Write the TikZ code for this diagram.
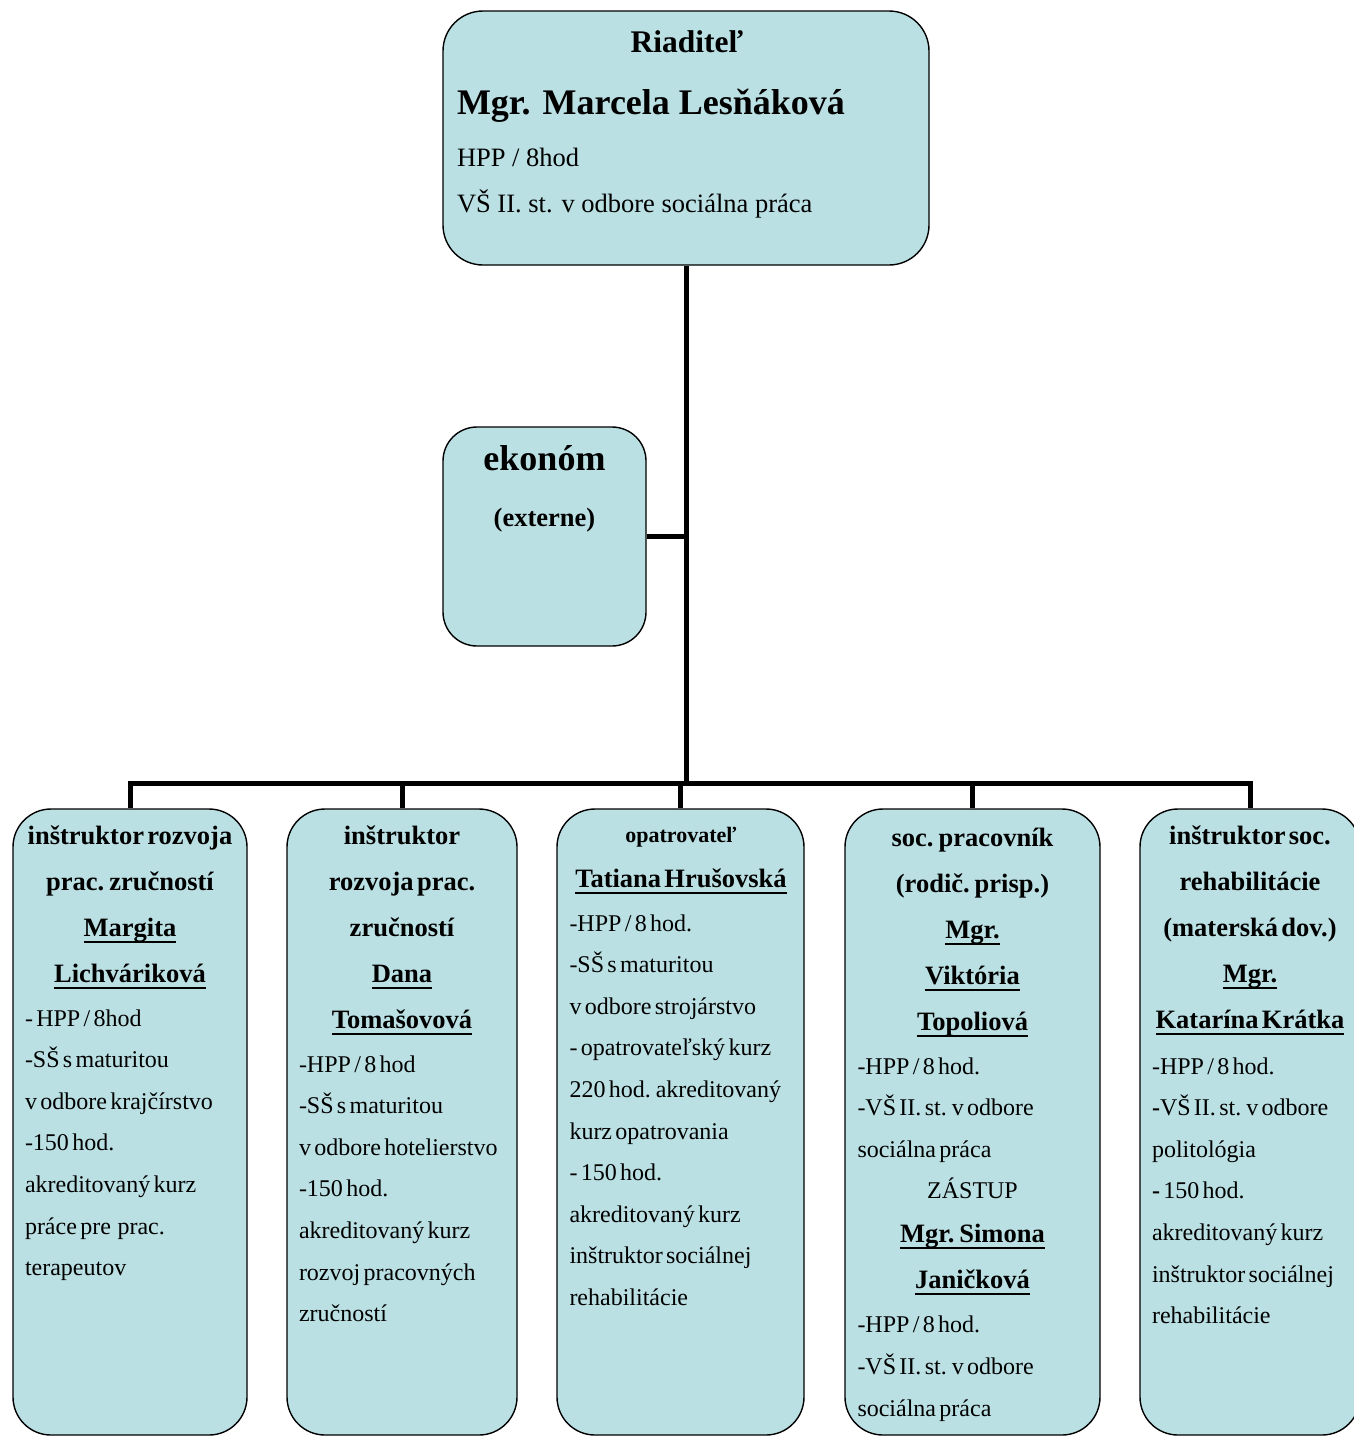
\documentclass[tikz,border=0pt]{standalone}
\usepackage{fontspec}
\setmainfont{Liberation Serif}
\definecolor{boxfill}{RGB}{186,224,227}
\newsavebox\nmbox
\newcommand\nm[1]{\sbox\nmbox{#1}\rlap{\rule[-0.25em]{\wd\nmbox}{0.075em}}\usebox\nmbox}
\newcommand\ctr[1]{\makebox[\hsize][c]{#1}}
\newcommand\hdfont{\fontsize{26.5}{46}\bfseries}
\newcommand\bdfont{\fontsize{24}{41.6}\selectfont}
\tikzset{
  orgbox/.style={draw=black, fill=boxfill, line width=1.4pt, rounded corners=38pt, inner sep=0pt},
  conn/.style={draw=black, line width=5pt},
  tx/.style={inner sep=0pt, outer sep=0pt},
}
\begin{document}
\begin{tikzpicture}[x=1pt,y=-1pt]
\useasboundingbox (0,0) rectangle (1354,1436);
\fill[white] (0,0) rectangle (1354,1436);

% boxes
\node[orgbox, rounded corners=40pt, minimum width=486pt, minimum height=254pt] (boss) at (686,138) {};
\node[orgbox, rounded corners=34pt, minimum width=203pt, minimum height=219pt] (ekon) at (544.5,536.5) {};
\node[orgbox, minimum width=234pt, minimum height=626pt] (b1) at (130,1122) {};
\node[orgbox, minimum width=230pt, minimum height=626pt] (b2) at (402,1122) {};
\node[orgbox, minimum width=247pt, minimum height=626pt] (b3) at (680.5,1122) {};
\node[orgbox, minimum width=255pt, minimum height=626pt] (b4) at (972.5,1122) {};
\node[orgbox, minimum width=220pt, minimum height=626pt] (b5) at (1250,1122) {};

% connectors
\coordinate (j) at (686,783);
\draw[conn] (boss.south) -- (j);
\draw[conn] (ekon.east) -- (ekon.east -| j);
\draw[conn] (b1.north) |- (j) -| (b5.north);
\draw[conn] (b2.north) -- (b2.north |- j);
\draw[conn] (b3.north) -- (b3.north |- j);
\draw[conn] (b4.north) -- (b4.north |- j);

% top box text
\node[tx, anchor=base] (r1) at (687,52) {\fontsize{31.5}{34}\bfseries Riaditeľ};
\node[tx, anchor=base west] (r2) at (457,114) {\fontsize{36}{40}\bfseries Mgr. Marcela Lesňáková};
\node[tx, anchor=base west] (r3) at (457,166) {\fontsize{26.5}{30}\selectfont HPP / 8hod};
\node[tx, anchor=base west] (r4) at (457,212) {\fontsize{26.5}{30}\selectfont VŠ II. st. v odbore sociálna práca};

% ekonom text
\node[tx, anchor=base] (e1) at (544.5,470) {\fontsize{36}{40}\bfseries ekonóm};
\node[tx, anchor=base] (e2) at (544.5,526) {\fontsize{26.5}{30}\bfseries (externe)};

% box 1
\node[tx, anchor=base west, text width=210pt] (t1) at (25,844) {%
{\hdfont \ctr{inštruktor rozvoja}\\ \ctr{prac. zručností}\\ \ctr{\nm{Margita}}\\ \ctr{\nm{Lichváriková}}\par}
\vspace{2.4pt}
{\bdfont \mbox{- HPP / 8hod}\\ \mbox{-SŠ s maturitou}\\ \mbox{v odbore krajčírstvo}\\ \mbox{-150 hod.}\\ \mbox{akreditovaný kurz}\\ \mbox{práce pre\ \ prac.}\\ \mbox{terapeutov}\par}};

% box 2
\node[tx, anchor=base west, text width=206pt] (t2) at (299,844) {%
{\hdfont \ctr{inštruktor}\\ \ctr{rozvoja prac.}\\ \ctr{zručností}\\ \ctr{\nm{Dana}}\\ \ctr{\nm{Tomašovová}}\par}
\vspace{2.4pt}
{\bdfont \mbox{-HPP / 8 hod}\\ \mbox{-SŠ s maturitou}\\ \mbox{v odbore hotelierstvo}\\ \mbox{-150 hod.}\\ \mbox{akreditovaný kurz}\\ \mbox{rozvoj pracovných}\\ \mbox{zručností}\par}};

% box 3
\node[tx, anchor=base west, text width=223pt] (t3) at (569.5,842) {%
{\fontsize{22}{30}\bfseries \ctr{opatrovateľ}\par}
{\fontsize{26.5}{45}\bfseries \ctr{\nm{Tatiana Hrušovská}}\par}
\vspace{2.4pt}
{\bdfont \mbox{-HPP / 8 hod.}\\ \mbox{-SŠ s maturitou}\\ \mbox{v odbore strojárstvo}\\ \mbox{- opatrovateľský kurz}\\ \mbox{220 hod. akreditovaný}\\ \mbox{kurz opatrovania}\\ \mbox{- 150 hod.}\\ \mbox{akreditovaný kurz}\\ \mbox{inštruktor sociálnej}\\ \mbox{rehabilitácie}\par}};

% box 4
\node[tx, anchor=base west, text width=230pt] (t4) at (857.5,846) {%
{\hdfont \ctr{soc. pracovník}\\ \ctr{(rodič. prisp.)}\\ \ctr{\nm{Mgr.}}\\ \ctr{\nm{Viktória}}\\ \ctr{\nm{Topoliová}}\par}
\vspace{2.4pt}
{\bdfont \mbox{-HPP / 8 hod.}\\ \mbox{-VŠ II. st. v odbore}\\ \mbox{sociálna práca}\\ \ctr{ZÁSTUP}\par}
\vspace{-2pt}
{\hdfont \ctr{\nm{Mgr. Simona}}\\ \ctr{\nm{Janičková}}\par}
\vspace{2.4pt}
{\bdfont \mbox{-HPP / 8 hod.}\\ \mbox{-VŠ II. st. v odbore}\\ \mbox{sociálna práca}\par}};

% box 5
\node[tx, anchor=base west, text width=196pt] (t5) at (1152,844) {%
{\hdfont \ctr{inštruktor soc.}\\ \ctr{rehabilitácie}\\ \ctr{(materská dov.)}\\ \ctr{\nm{Mgr.}}\\ \ctr{\nm{Katarína Krátka}}\par}
\vspace{4.4pt}
{\bdfont \mbox{-HPP / 8 hod.}\\ \mbox{\textbf{-}VŠ II. st. v odbore}\\ \mbox{politológia}\\ \mbox{\textbf{-} 150 hod.}\\ \mbox{akreditovaný kurz}\\ \mbox{inštruktor sociálnej}\\ \mbox{rehabilitácie}\par}};
\end{tikzpicture}
\end{document}
